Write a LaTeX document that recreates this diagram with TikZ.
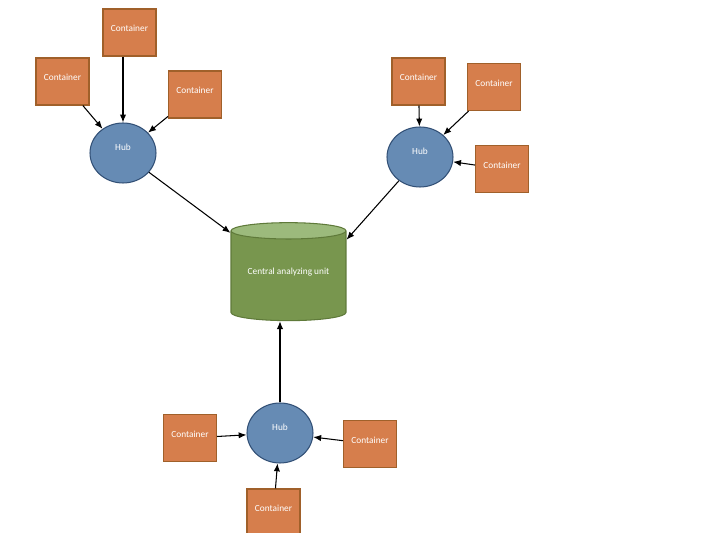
\documentclass[tikz,border=0pt]{standalone}
\usepackage{fontspec}
\setmainfont{Carlito}
\usetikzlibrary{shapes.geometric,arrows.meta}

\definecolor{boxfill}{RGB}{214,126,76}
\definecolor{boxline}{RGB}{160,96,42}
\definecolor{hubfill}{RGB}{102,139,180}
\definecolor{hubline}{RGB}{50,80,118}
\definecolor{cylbody}{RGB}{120,150,78}
\definecolor{cyltop}{RGB}{156,186,124}
\definecolor{cylline}{RGB}{95,122,58}

\begin{document}
\begin{tikzpicture}[x=0.02cm, y=-0.02cm,
  container/.style={draw=boxline, fill=boxfill, line width=0.6pt, minimum width=1.06cm, minimum height=0.94cm, inner sep=0pt, text=white, font=\fontsize{5.3}{6}\selectfont, text height=4pt, text depth=5.1pt},
  hub/.style={draw=hubline, fill=hubfill, line width=0.6pt, ellipse, minimum width=1.32cm, minimum height=1.2cm, inner sep=0pt, text=white, font=\fontsize{5.3}{6}\selectfont, text height=4pt, text depth=7.4pt},
  arr/.style={-{Latex[length=4.5pt,width=3.6pt]}, line width=0.6pt}]
\useasboundingbox (0,0) rectangle (714,533);
% central unit
\node[cylinder, shape border rotate=90, aspect=0.2, draw=cylline, line width=0.6pt, cylinder uses custom fill, cylinder body fill=cylbody, cylinder end fill=cyltop, minimum width=2.3cm, minimum height=1.96cm, inner sep=0pt, text=white, font=\fontsize{5.3}{6}\selectfont, text height=4pt, text depth=6pt] (0&0) at (288.5,276) {Central analyzing unit};
% hubs
\node[hub] (1&0) at (123,153) {Hub};
\node[hub] (2&0) at (420,157) {Hub};
\node[hub] (3&0) at (280,433) {Hub};
% containers
\node[container] (1&1) at (129.5,32.5) {Container};
\node[container] (1&2) at (62.5,81.5) {Container};
\node[container] (1&3) at (195,94.5) {Container};
\node[container] (2&1) at (418.5,81.5) {Container};
\node[container] (2&2) at (494,87) {Container};
\node[container] (2&3) at (502,169) {Container};
\node[container] (3&1) at (190,438) {Container};
\node[container] (3&2) at (370,444) {Container};
\node[container] (3&3) at (273.5,512.5) {Container};
\draw[arr] (1&1.south -| 1&0) -- (1&0);
\draw[arr] (1&2) -- (1&0);
\draw[arr] (1&3) -- (1&0);
\draw[arr] (2&1) -- (2&0);
\draw[arr] (2&2) -- (2&0);
\draw[arr] (2&3) -- (2&0);
\draw[arr] (3&1) -- (3&0);
\draw[arr] (3&2) -- (3&0);
\draw[arr] (3&3) -- (3&0);
\draw[arr] (1&0) -- (0&0);
\draw[arr] (2&0) -- (0&0.32);
\draw[arr] (3&0) -- (3&0 |- 0&0.south);
\end{tikzpicture}
\end{document}
